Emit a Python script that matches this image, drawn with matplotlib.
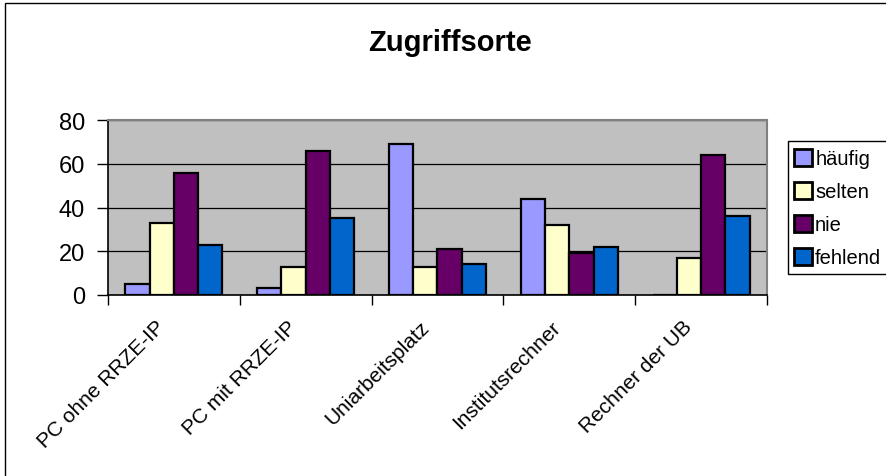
import matplotlib
matplotlib.use("Agg")
import matplotlib.pyplot as plt
import numpy as np
from matplotlib.patches import Rectangle

plt.rcParams['font.family'] = ['Liberation Sans', 'DejaVu Sans']

categories = ["PC ohne RRZE-IP", "PC mit RRZE-IP", "Uniarbeitsplatz", "Institutsrechner", "Rechner der UB"]
series_names = ["häufig", "selten", "nie", "fehlend"]
haeufig = [5, 3, 69, 44, 0]
selten = [33, 13, 13, 32, 17]
nie = [56, 66, 21, 19, 64]
fehlend = [23, 35, 14, 22, 36]
colors = ["#9999FF", "#FFFFCC", "#660066", "#0066CC"]
title = "Zugriffsorte"
yticks = [0, 20, 40, 60, 80]

W, H = 887, 477
fig = plt.figure(figsize=(W / 100, H / 100), dpi=100)
fig.patch.set_facecolor("white")

# outer chart border (left & top visible)
fig.patches.append(Rectangle((5 / W, -0.1), 1.2, 1 - 4 / H + 0.1, transform=fig.transFigure,
                             fill=False, edgecolor="black", linewidth=1.0, zorder=0))

left, right, top, bottom = 108, 767, 121, 296
ax = fig.add_axes([left / W, 1 - bottom / H, (right - left) / W, (bottom - top) / H])
ax.set_facecolor("#C0C0C0")

x = np.arange(len(categories))
w = 0.184
data = [haeufig, selten, nie, fehlend]
for i, (name, vals, c) in enumerate(zip(series_names, data, colors)):
    ax.bar(x + (i - 1.5) * w, vals, width=w, color=c, edgecolor="black",
           linewidth=1.6, label=name, zorder=3)

ax.set_xlim(-0.5, len(categories) - 0.5)
ax.set_ylim(0, 80)
ax.set_yticks(yticks)
ax.set_yticklabels([str(v) for v in yticks], fontsize=17)
ax.yaxis.grid(True, color="black", linewidth=0.9, zorder=1)
ax.set_axisbelow(True)
ax.tick_params(axis="y", direction="out", length=8, width=1, pad=8.5)

ax.set_xticks(np.arange(len(categories) + 1) - 0.5)
ax.set_xticklabels([])
ax.tick_params(axis="x", direction="out", length=7, width=1)
for i, cat in enumerate(categories):
    ax.text(i - 0.14, -10, cat, rotation=45, ha="right", va="top",
            rotation_mode="anchor", fontsize=15, transform=ax.transData)

for s in ["top", "right"]:
    ax.spines[s].set_color("#808080")
    ax.spines[s].set_linewidth(1.5)
for s in ["left", "bottom"]:
    ax.spines[s].set_color("black")
    ax.spines[s].set_linewidth(1.2)

fig.text(450 / W, 1 - 43 / H, title, ha="center", va="center", fontsize=21, fontweight="bold")

# legend frame (extends past the right edge like the reference)
fig.patches.append(Rectangle((788 / W, 1 - 275 / H), 0.5, (275 - 142) / H,
                             transform=fig.transFigure, fill=True, facecolor="white",
                             edgecolor="black", linewidth=1.0, zorder=1))
leg = fig.legend(loc="upper left", bbox_to_anchor=(790 / W, 1 - 146 / H),
                 bbox_transform=fig.transFigure, fontsize=14.5, frameon=False,
                 handlelength=0.9, handleheight=0.9,
                 handletextpad=0.15, labelspacing=0.68, borderpad=0.2,
                 borderaxespad=0)
leg.set_zorder(5)
for h in leg.legend_handles:
    h.set_linewidth(2.0)

fig.savefig("out.png", dpi=100)
